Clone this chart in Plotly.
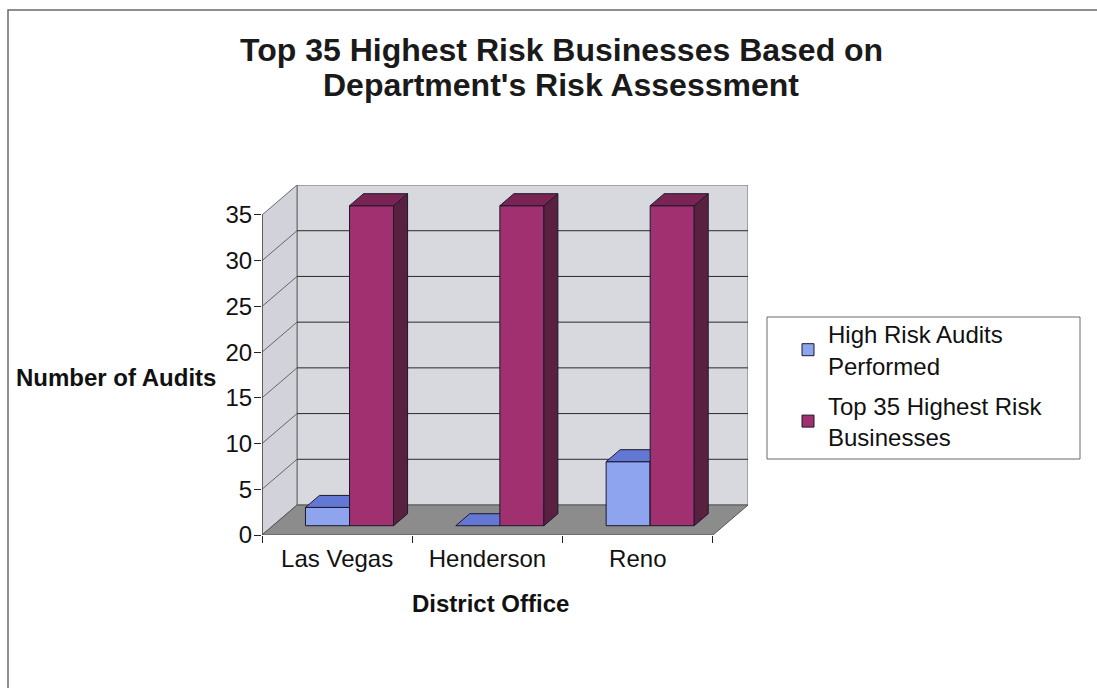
import plotly.graph_objects as go

# ---- data -------------------------------------------------------------
offices = ["Las Vegas", "Henderson", "Reno"]
audits_performed = [2, 0, 7]
top35_businesses = [35, 35, 35]
series_names = ["High Risk Audits<br>Performed", "Top 35 Highest Risk<br>Businesses"]
y_ticks = [0, 5, 10, 15, 20, 25, 30, 35]
title_lines = ["Top 35 Highest Risk Businesses Based on", "Department's Risk Assessment"]

# ---- 3-D look parameters (axis units) ---------------------------------
DX, DY = 0.233, 3.28          # depth vector of the floor / walls
F0, F1 = 0.31, 0.71           # bar front / back as fractions of depth
BAR_W = 0.293
BAR_START = -0.283            # left edge of the first bar relative to category
YMAX = y_ticks[-1]
n = len(offices)
X0, X1 = -0.5, n - 0.5

# plot-area pixel frame used to place paper-referenced items
PL, PW, PB, PH = 262, 486, 535, 350
def px(x):
    return (x - PL) / PW
def py(y):
    return (PB - y) / PH

face_colors = [
    dict(front="#8ea4ee", top="#6377d4", side="#4b5bb0"),
    dict(front="#a0306f", top="#7a2456", side="#5a2040"),
]
EDGE = "#1a1a2a"
FONT = "Liberation Sans, Arial, sans-serif"

fig = go.Figure()

# walls, floor and gridlines sit underneath the bars
shapes = []
wall_fill = "#d8d9df"
side_fill = "#d2d3da"
floor_fill = "#8c8c8c"
shapes.append(dict(type="path", xref="x", yref="y", layer="below",
                   path=f"M{X0+DX},{DY} L{X1+DX},{DY} L{X1+DX},{YMAX+DY} L{X0+DX},{YMAX+DY} Z",
                   fillcolor=wall_fill, line=dict(color="#6a6a6a", width=1)))
shapes.append(dict(type="path", xref="x", yref="y", layer="below",
                   path=f"M{X0},0 L{X0+DX},{DY} L{X0+DX},{YMAX+DY} L{X0},{YMAX} Z",
                   fillcolor=side_fill, line=dict(color="#6a6a6a", width=1)))
for v in y_ticks[1:-1]:
    shapes.append(dict(type="line", xref="x", yref="y", layer="below",
                       x0=X0+DX, y0=v+DY, x1=X1+DX, y1=v+DY,
                       line=dict(color="#2a2a2a", width=1)))
    shapes.append(dict(type="line", xref="x", yref="y", layer="below",
                       x0=X0, y0=v, x1=X0+DX, y1=v+DY,
                       line=dict(color="#666666", width=1)))
shapes.append(dict(type="path", xref="x", yref="y", layer="below",
                   path=f"M{X0},0 L{X1},0 L{X1+DX},{DY} L{X0+DX},{DY} Z",
                   fillcolor=floor_fill, line=dict(color="#555555", width=1)))
# front vertical axis edge
shapes.append(dict(type="line", xref="x", yref="y", layer="below",
                   x0=X0, y0=0, x1=X0, y1=YMAX, line=dict(color="#222222", width=1)))
# outer frame of the chart area
shapes.append(dict(type="rect", xref="paper", yref="paper", layer="below",
                   x0=px(8), y0=py(690), x1=px(1105), y1=py(10),
                   line=dict(color="#6a6a6a", width=1.5), fillcolor="rgba(0,0,0,0)"))
# legend frame
shapes.append(dict(type="rect", xref="paper", yref="paper", layer="below",
                   x0=px(767), y0=py(459), x1=px(1080), y1=py(317),
                   line=dict(color="#6a6a6a", width=1), fillcolor="white"))


def poly(xs, ys, color):
    fig.add_trace(go.Scatter(x=xs + [xs[0]], y=ys + [ys[0]], mode="lines", fill="toself",
                             fillcolor=color, line=dict(color=EDGE, width=1),
                             hoverinfo="skip", showlegend=False))


ox, oy = F0 * DX, F0 * DY
dx, dy = (F1 - F0) * DX, (F1 - F0) * DY
series_values = [audits_performed, top35_businesses]
for i in range(n):
    for s, vals in enumerate(series_values):
        v = vals[i]
        xl = i + BAR_START + s * BAR_W + ox
        xr = xl + BAR_W
        yb, yt = oy, v + oy
        c = face_colors[s]
        if v > 0:
            poly([xl, xr, xr, xl], [yb, yb, yt, yt], c["front"])
            poly([xr, xr + dx, xr + dx, xr], [yb, yb + dy, yt + dy, yt], c["side"])
        poly([xl, xr, xr + dx, xl + dx], [yt, yt, yt + dy, yt + dy], c["top"])

# legend-only entries
for s, name in enumerate(series_names):
    fig.add_trace(go.Bar(x=[None], y=[None], name=name, legendgroup=f"g{s}",
                         marker=dict(color=face_colors[s]["front"], line=dict(color=EDGE, width=1))))

annotations = [
    dict(text=f"<b>{title_lines[0]}</b>", xref="paper", yref="paper",
         x=px(561), y=py(50), showarrow=False, font=dict(size=32, color="#1a1a1a"),
         xanchor="center", yanchor="middle"),
    dict(text=f"<b>{title_lines[1]}</b>", xref="paper", yref="paper",
         x=px(561), y=py(85), showarrow=False, font=dict(size=32, color="#1a1a1a"),
         xanchor="center", yanchor="middle"),
    dict(text="<b>Number of Audits</b>", xref="paper", yref="paper",
         x=px(116), y=py(377), showarrow=False,
         font=dict(size=24), xanchor="center", yanchor="middle"),
    dict(text="<b>District Office</b>", xref="paper", yref="paper",
         x=px(490), y=py(603), showarrow=False,
         font=dict(size=24), xanchor="center", yanchor="middle"),
]

fig.update_layout(
    width=1097, height=688,
    margin=dict(l=PL, r=1097 - PL - PW, t=PB - PH, b=688 - PB),
    paper_bgcolor="white", plot_bgcolor="white",
    font=dict(family=FONT, size=24, color="#111111"),
    shapes=shapes,
    annotations=annotations,
    xaxis=dict(range=[X0, X1 + DX], tickvals=list(range(n)), ticktext=offices,
               ticks="", showgrid=False, zeroline=False, showline=False,
               ticklabelstandoff=7,
               minor=dict(tickvals=[k - 0.5 for k in range(n + 1)], ticks="outside",
                          ticklen=7, tickcolor="#222222", showgrid=False),
               fixedrange=True),
    yaxis=dict(range=[0, YMAX + DY], tickvals=y_ticks, ticks="outside", ticklen=7,
               tickcolor="#222222", showgrid=False, zeroline=False, showline=False,
               ticklabelstandoff=-3, fixedrange=True),
    legend=dict(x=px(788), xanchor="left", y=py(312), yanchor="top",
                bgcolor="rgba(0,0,0,0)", borderwidth=0,
                font=dict(size=24), tracegroupgap=6),
    bargap=0,
)

fig.write_html("out.html")
